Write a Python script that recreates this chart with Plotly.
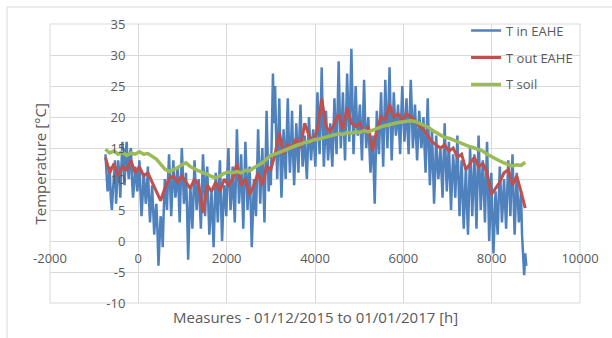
import plotly.graph_objects as go

# Hours since 01/01/2016 (measurements start 01/12/2015 = -744 h)
hours_in = list(range(-744, 8785, 24))      # sampling of T in EAHE (daily)
hours_out = list(range(-744, 8761, 96))     # sampling of T out EAHE / T soil

t_in = [
    14, 10, 8, 9, 12, 7, 5, 8, 11, 13, 6, 9, 13, 11, 7, 12, 16, 13, 9, 14,
    16, 12, 10, 14, 15, 10, 7, 9, 12, 11, 8, 10, 13, 8, 4, 7, 11, 9, 6, 8,
    12, 7, 3, 6, 9, 5, 1, 4, 6, 2, -4, 0, 4, 3, -1, 5, 10, 8, 5, 10,
    14, 9, 4, 8, 13, 10, 7, 9, 12, 8, 3, 9, 15, 11, 6, 8, 11, 5, -3, 3,
    9, 6, 2, 7, 13, 9, 5, 8, 10, 6, 2, 8, 14, 10, 4, 9, 12, 6, 1, 4,
    8, 4, -1, 5, 11, 7, 3, 9, 13, 6, 0, 5, 9, 7, 4, 11, 15, 9, 5, 8,
    12, 7, 3, 10, 18, 12, 6, 9, 14, 8, 2, 9, 16, 11, 5, 9, 12, 6, -1, 4,
    10, 7, 4, 11, 18, 12, 6, 11, 15, 9, 3, 12, 21, 14, 8, 12, 9, 18, 27, 19,
    25, 17, 10, 16, 23, 14, 7, 12, 18, 14, 10, 17, 23, 16, 11, 15, 21, 14, 9, 14,
    19, 15, 11, 17, 22, 16, 12, 15, 17, 13, 10, 15, 20, 16, 13, 16, 18, 15, 12, 18,
    24, 18, 14, 20, 28, 19, 12, 16, 21, 17, 13, 16, 19, 15, 12, 17, 23, 18, 14, 21,
    29, 21, 15, 19, 24, 18, 13, 20, 27, 21, 16, 23, 31, 22, 14, 19, 25, 20, 17, 19,
    22, 17, 13, 20, 26, 19, 15, 18, 20, 15, 11, 14, 17, 12, 6, 14, 21, 17, 14, 19,
    24, 18, 12, 19, 26, 20, 15, 21, 28, 20, 13, 18, 24, 20, 17, 19, 22, 18, 14, 20,
    25, 20, 16, 19, 23, 18, 14, 20, 26, 21, 15, 18, 22, 17, 13, 17, 21, 18, 15, 17,
    20, 15, 11, 17, 23, 16, 9, 13, 18, 12, 6, 11, 17, 13, 10, 12, 15, 11, 7, 13,
    19, 13, 8, 12, 16, 10, 5, 10, 14, 11, 7, 12, 17, 10, 4, 9, 13, 7, 2, 7,
    12, 6, 1, 8, 15, 10, 4, 9, 14, 8, 2, 10, 17, 11, 5, 9, 13, 8, 3, 10,
    16, 8, 0, 5, 11, 4, -2, 3, 8, 4, 1, 7, 12, 8, 3, 6, 10, 6, 2, 8,
    13, 9, 4, 10, 14, 7, 1, 6, 11, 7, 3, 5, 8, 1, -3, -5.5, -2, -4,
]

t_out = [
    13.5, 11, 12.5, 10.5, 12, 11.5, 13, 11, 12, 10.5,
    11, 9.5, 8, 6.5, 8.5, 10, 10.5, 9.5, 10.5, 9.5,
    8.5, 10, 9, 4.5, 9, 8, 9.5, 8, 10, 9,
    10, 12.5, 9, 10, 7.5, 9, 11, 9, 12, 11.5,
    14, 17.5, 14, 15.5, 15, 16.5, 15, 19, 17, 16,
    18, 23, 18.5, 17.5, 19, 20.5, 18, 21.5, 19, 18.5,
    19, 17.5, 18.5, 14.5, 18, 20, 19.5, 22, 20, 20.5,
    19.5, 20.5, 20, 19.5, 18.5, 18, 17, 16, 15.5, 15,
    15.5, 14.5, 15, 13.5, 14, 11.5, 12.5, 13.5, 12, 12.5,
    11, 7.5, 8.5, 9.5, 11, 11.5, 9, 10.5, 8, 5.3,
]

t_soil = [
    14.8, 14.2, 14.5, 14.0, 14.3, 13.8, 14.2, 14.0, 14.4, 14.0,
    14.1, 13.6, 13.2, 12.4, 11.6, 11.2, 11.5, 11.8, 12.3, 12.6,
    12.0, 11.6, 11.3, 11.0, 10.8, 10.4, 10.2, 10.5, 10.9, 11.1,
    11.0, 11.2, 11.0, 11.4, 11.3, 11.8, 12.2, 12.6, 13.2, 13.8,
    14.0, 14.3, 14.6, 14.8, 15.1, 15.4, 15.6, 15.9, 16.0, 16.3,
    16.4, 16.6, 16.8, 16.9, 17.1, 17.3, 17.2, 17.5, 17.4, 17.6,
    17.5, 17.8, 17.6, 17.9, 18.1, 18.4, 18.6, 18.8, 19.0, 19.1,
    19.2, 19.3, 19.4, 19.3, 19.0, 18.8, 18.4, 17.9, 17.5, 17.0,
    16.7, 16.6, 16.3, 16.0, 15.7, 15.4, 15.2, 15.0, 14.8, 14.5,
    14.0, 13.6, 13.2, 12.9, 12.6, 12.3, 12.1, 12.3, 12.2, 12.7,
]

series_names = ["T in EAHE", "T out EAHE", "T soil"]
x_range = [-2000, 10000]
y_range = [-10, 35]
x_tickvals = [-2000, 0, 2000, 4000, 6000, 8000, 10000]
x_ticktext = ["-2000", "0", "2000", "4000", "6000", "8000", "10000"]
y_tickvals = [-10, -5, 0, 5, 10, 15, 20, 25, 30, 35]
y_ticktext = ["-10", "-5", "0", "5", "10", "15", "20", "25", "30", "35"]

FONT = "'Open Sans', Lato, sans-serif"
TXT = "#595959"
GRID = "#d9d9d9"

fig = go.Figure()
fig.add_trace(go.Scatter(x=hours_in, y=t_in, mode="lines", name=series_names[0],
                         line=dict(color="#4f81bd", width=2.5), legendgroup="a"))
fig.add_trace(go.Scatter(x=hours_out, y=t_out, mode="lines", name=series_names[1],
                         line=dict(color="#c0504d", width=3), legendgroup="b"))
fig.add_trace(go.Scatter(x=hours_out, y=t_soil, mode="lines", name=series_names[2],
                         line=dict(color="#9bbb59", width=3.5), legendgroup="c"))

fig.update_layout(
    width=612, height=338,
    margin=dict(l=50, r=32, t=24, b=35),
    paper_bgcolor="white", plot_bgcolor="white",
    font=dict(family=FONT, size=13, color=TXT),
    showlegend=True,
    legend=dict(x=0.785, y=1.03, xanchor="left", yanchor="top",
                bgcolor="rgba(0,0,0,0)", tracegroupgap=7,
                font=dict(family=FONT, size=13, color=TXT)),
    xaxis=dict(range=x_range, tickvals=x_tickvals, ticktext=x_ticktext,
               showgrid=True, gridcolor=GRID,
               gridwidth=1, zeroline=False, showline=False, ticks="",
               anchor="free", position=(0 - y_range[0]) / (y_range[1] - y_range[0]),
               ticklabelstandoff=8, tickfont=dict(family=FONT, size=13, color=TXT)),
    yaxis=dict(range=y_range, tickvals=y_tickvals, ticktext=y_ticktext,
               showgrid=True, gridcolor=GRID,
               gridwidth=1, zeroline=False, showline=False, ticks="",
               anchor="free", position=(0 - x_range[0]) / (x_range[1] - x_range[0]),
               ticklabelstandoff=13, tickfont=dict(family=FONT, size=13, color=TXT)),
    shapes=[
        dict(type="rect", xref="paper", yref="paper", x0=0, x1=1, y0=0, y1=1,
             line=dict(color=GRID, width=1), layer="below"),
        dict(type="rect", xref="paper", yref="paper", x0=-0.0811, x1=1.2,
             y0=-0.2, y1=1.0609, line=dict(color=GRID, width=1), layer="below"),
    ],
    annotations=[
        dict(text="Measures - 01/12/2015 to 01/01/2017 [h]", xref="paper", yref="paper",
             x=0.5, y=-0.0502, xanchor="center", yanchor="middle", showarrow=False,
             font=dict(family=FONT, size=15, color=TXT)),
        dict(text="Temperature [°C]", xref="paper", yref="paper", x=-0.0189, y=0.5,
             xanchor="center", yanchor="middle", textangle=-90, showarrow=False,
             font=dict(family=FONT, size=15, color=TXT)),
    ],
)

fig.write_html("out.html")
